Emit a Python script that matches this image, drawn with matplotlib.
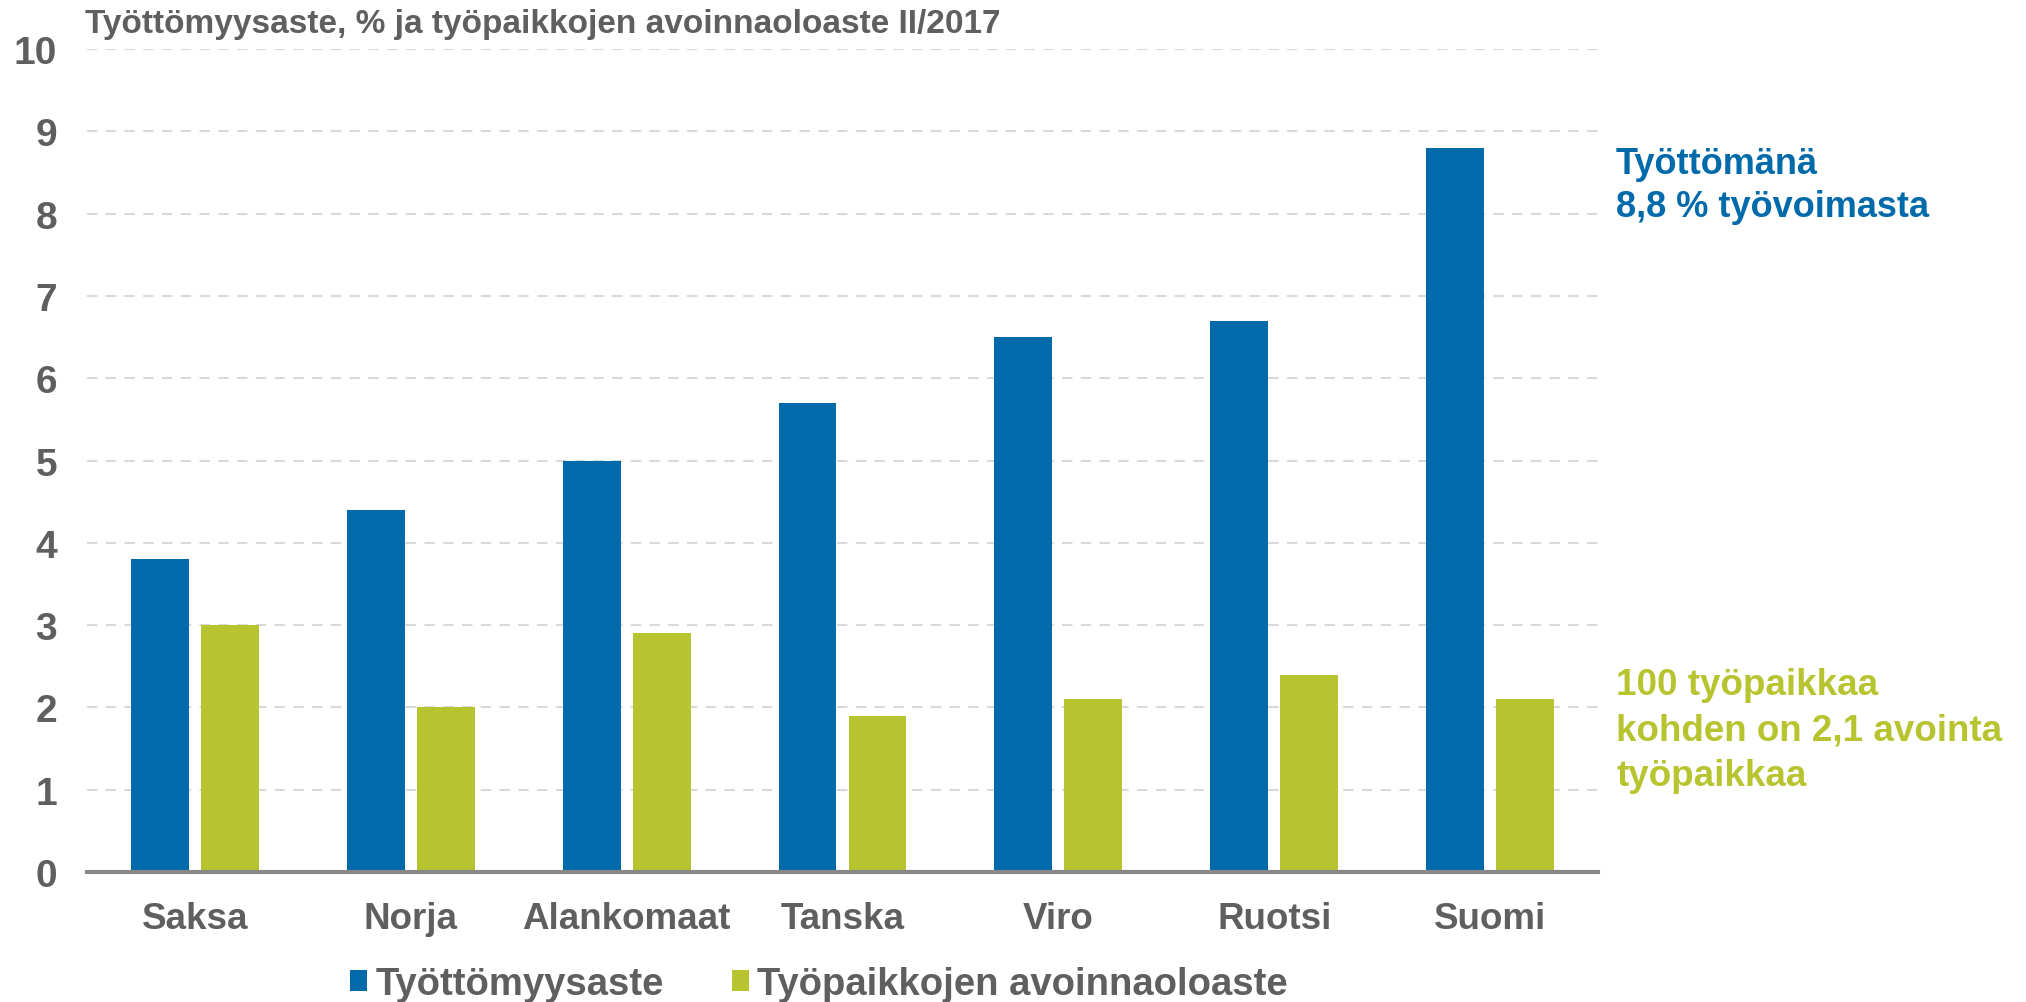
import matplotlib
matplotlib.use("Agg")
import matplotlib.pyplot as plt
from matplotlib.patches import Patch
import numpy as np

plt.rcParams['font.family'] = ['Liberation Sans', 'DejaVu Sans']
plt.rcParams['font.weight'] = 'bold'

categories = ["Saksa", "Norja", "Alankomaat", "Tanska", "Viro", "Ruotsi", "Suomi"]
unemployment = [3.8, 4.4, 5.0, 5.7, 6.5, 6.7, 8.8]
vacancy = [3.0, 2.0, 2.9, 1.9, 2.1, 2.4, 2.1]
series_names = ["Työttömyysaste", "Työpaikkojen avoinnaoloaste"]
yticks = [0, 1, 2, 3, 4, 5, 6, 7, 8, 9, 10]
title = "Työttömyysaste, % ja työpaikkojen avoinnaoloaste II/2017"
note_blue = "Työttömänä\n8,8 % työvoimasta"
note_green = "100 työpaikkaa\nkohden on 2,1 avointa\ntyöpaikkaa"

BLUE = "#006AAB"
GREEN = "#B8C42F"
GREY = "#5f5f5f"

fig = plt.figure(figsize=(20.26, 10.03), dpi=100)
ax = fig.add_axes([0.0429, 0.1296, 0.7459, 0.8205])

x = np.arange(len(categories))
w = 0.268
off = 0.162
ax.bar(x - off, unemployment, width=w, color=BLUE, zorder=3)
ax.bar(x + off, vacancy, width=w, color=GREEN, zorder=3)

ax.set_xlim(-0.5, len(categories) - 0.5)
ax.set_ylim(0, 10)
ax.set_yticks(yticks)
ax.set_yticklabels([str(t) for t in yticks], fontsize=28, color=GREY, fontweight='bold')
ax.set_xticks(x)
ax.set_xticklabels(categories, fontsize=26.5, color=GREY, fontweight='bold')
ax.tick_params(axis='y', length=0, pad=21.5)
ax.tick_params(axis='x', length=0, pad=21)

for t in yticks[1:]:
    ax.axhline(t, color="#d9d9d9", lw=1.5, ls=(0, (5, 4)), zorder=1)

for s in ['top', 'right', 'left']:
    ax.spines[s].set_visible(False)
ax.spines['bottom'].set_color("#888888")
ax.spines['bottom'].set_linewidth(3)
ax.spines['bottom'].set_zorder(4)

fig.text(85 / 2026, 1 - 24 / 1003, title, fontsize=24, color=GREY, fontweight='bold',
         ha='left', va='center')

fig.text(1616 / 2026, 1 - 186 / 1003, note_blue, fontsize=26, color=BLUE, fontweight='bold',
         ha='left', va='center', linespacing=1.27)
fig.text(1616 / 2026, 1 - 731 / 1003, note_green, fontsize=26.5, color=GREEN, fontweight='bold',
         ha='left', va='center', linespacing=1.4)

handles = [Patch(facecolor=BLUE, edgecolor='none'), Patch(facecolor=GREEN, edgecolor='none')]
leg = fig.legend(handles, series_names, loc='center', bbox_to_anchor=(819 / 2026, 1 - 985 / 1003),
                 ncol=2, frameon=False, fontsize=27.5, handlelength=0.45, handleheight=0.45,
                 handletextpad=0.2, columnspacing=1.8, borderpad=0)
for t in leg.get_texts():
    t.set_color(GREY)
    t.set_fontweight('bold')

fig.savefig("out.png", dpi=100)
